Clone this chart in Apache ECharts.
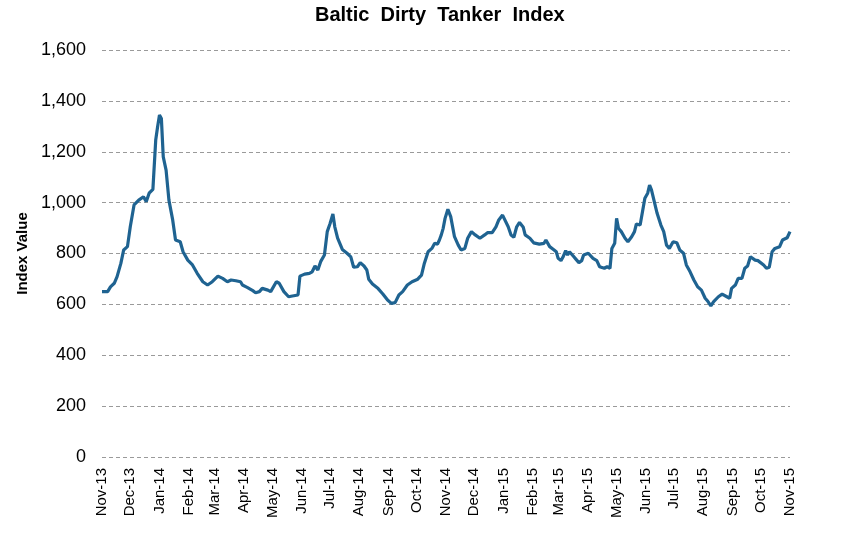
<!DOCTYPE html>
<html>
<head>
<meta charset="utf-8">
<title>Baltic Dirty Tanker Index</title>
<script src="https://cdn.jsdelivr.net/npm/echarts@6/dist/echarts.min.js"></script>
<style>
html, body { margin: 0; padding: 0; background: #fff; }
#chart { width: 842px; height: 536px; }
</style>
</head>
<body>
<div id="chart"></div>
<script>
// month names for the x labels (Nov-13 ... Nov-15)
var monthNames = ['Jan', 'Feb', 'Mar', 'Apr', 'May', 'Jun', 'Jul', 'Aug', 'Sep', 'Oct', 'Nov', 'Dec'];

// days since 1 Nov 2013
var dayOffsets = [
	0, 6, 9, 13, 16, 20, 23, 27, 30, 34, 39, 44, 47, 50, 54, 57, 59, 61, 63, 65, 68, 71, 75, 78, 83, 86, 91, 96, 101, 107, 112, 117,
	119, 123, 128, 133, 137, 142, 147, 149, 154, 160, 163, 167, 170, 176, 179, 185, 188, 193, 198, 202, 208, 210, 215, 220, 223, 226, 229, 232, 236,
	239, 242, 245, 247, 250, 255, 260, 261, 264, 267, 271, 274, 278, 281, 283, 287, 293, 298, 303, 307, 311, 315, 319, 324, 329, 335, 339, 342, 346, 350, 353, 356,
	358, 360, 362, 364, 367, 370, 374, 378, 381, 385, 388, 392, 396, 401, 406, 409, 414, 418, 421, 425, 427, 431, 434, 437, 440, 443, 447, 449, 454, 458, 464, 469, 471, 475, 479, 482,
	484, 487, 489, 492, 494, 496, 500, 503, 506, 509, 511, 516, 518, 521, 525, 528, 533, 536, 539, 541, 544, 546, 548, 551, 555, 558, 562, 565, 567, 571, 573, 576, 579, 581, 583, 586, 589, 593, 596, 599, 602, 606,
	608, 610, 613, 617, 620, 624, 628, 632, 636, 640, 643, 646, 649, 654, 658, 663, 666, 668, 672, 675, 679, 682, 685, 688, 693, 696, 702, 705, 708, 711, 714, 719, 722, 727, 730
];

// index values at those days
var indexValues = [
	650, 650, 669, 683, 709, 761, 814, 827, 905, 991, 1010, 1023, 1004, 1037, 1052, 1246, 1298, 1344, 1331, 1180, 1128, 1010, 932, 853, 846, 807, 774, 755, 722, 689, 676, 689,
	696, 711, 702, 689, 696, 693, 689, 676, 667, 654, 646, 650, 663, 656, 650, 689, 683, 650, 630, 633, 637, 711, 719, 722, 728, 751, 735, 768, 794,
	886, 918, 955, 905, 860, 816, 801, 807, 787, 746, 748, 764, 751, 735, 699, 680, 662, 641, 617, 604, 607, 637, 650, 676, 689, 699, 715, 761, 807, 820, 840, 837,
	853, 873, 899, 938, 974, 945, 866, 833, 814, 820, 860, 886, 873, 860, 873, 882, 882, 905, 932, 951, 945, 905, 873, 864, 905, 922, 903, 873, 860, 842, 837, 840, 853, 827, 816, 807,
	781, 772, 785, 811, 794, 807, 790, 777, 764, 772, 794, 801, 803, 781, 772, 748, 742, 748, 742, 820, 840, 938, 899, 886, 860, 846, 866, 886, 916, 912, 918, 1017, 1037, 1069, 1050, 1004, 958, 912, 886, 833, 820, 846,
	850, 842, 814, 801, 755, 728, 696, 669, 656, 624, 611, 594, 611, 630, 640, 630, 624, 663, 676, 702, 702, 742, 751, 787, 774, 772, 755, 742, 746, 807, 820, 827, 853, 862, 886
];

var DAY = 86400000;
var points = [];
for (var i = 0; i < dayOffsets.length; i++) {
	points.push([new Date(2013, 10, 1 + dayOffsets[i]).getTime(), indexValues[i]]);
}

var chart = echarts.init(document.getElementById('chart'));
chart.setOption({
	animation: false,
	backgroundColor: '#fff',
	textStyle: { fontFamily: 'Liberation Sans, Arial, sans-serif' },
	title: {
		text: 'Baltic  Dirty  Tanker  Index',
		left: 310,
		top: 0,
		textStyle: { fontSize: 20, fontWeight: 'bold', color: '#000' }
	},
	grid: { left: 102, right: 52, top: 50, bottom: 79 },
	xAxis: {
		type: 'time',
		min: new Date(2013, 10, 1).getTime(),
		max: new Date(2015, 10, 1).getTime(),
		splitNumber: 24,
		minInterval: 28 * DAY,
		maxInterval: 31 * DAY,
		axisLine: { show: false },
		axisTick: { show: false },
		splitLine: { show: false },
		axisLabel: {
			rotate: 90,
			fontSize: 15,
			color: '#000',
			margin: 11,
			hideOverlap: false,
			showMinLabel: true,
			showMaxLabel: true,
			formatter: function (val) {
				var d = new Date(val);
				return monthNames[d.getMonth()] + '-' + String(d.getFullYear()).slice(2);
			}
		}
	},
	yAxis: {
		type: 'value',
		min: 0,
		max: 1600,
		interval: 200,
		name: 'Index Value',
		nameLocation: 'middle',
		nameGap: 66,
		nameRotate: 90,
		nameTextStyle: { fontSize: 15, fontWeight: 'bold', color: '#000' },
		axisLine: { show: false },
		axisTick: { show: false },
		axisLabel: {
			fontSize: 18,
			color: '#000',
			margin: 16,
			formatter: function (v) { return v.toLocaleString('en-US'); }
		},
		splitLine: { lineStyle: { color: '#9a9a9a', type: [4, 3], width: 1 } }
	},
	series: [{
		type: 'line',
		data: points,
		showSymbol: false,
		lineStyle: { color: '#1f6391', width: 3.2 },
		itemStyle: { color: '#1f6391' }
	}]
});
</script>
</body>
</html>
